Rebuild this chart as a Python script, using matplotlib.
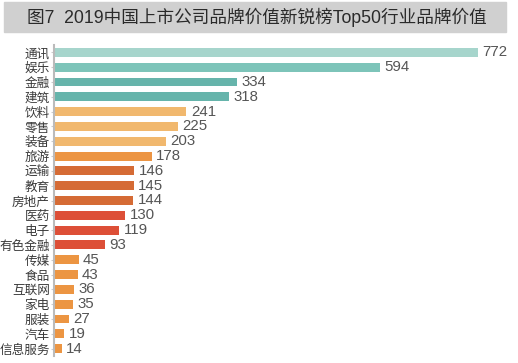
import matplotlib.pyplot as plt
from matplotlib.patches import Rectangle

plt.rcParams['font.family'] = ['Noto Sans CJK SC', 'DejaVu Sans']

categories = ["通讯", "娱乐", "金融", "建筑", "饮料", "零售", "装备", "旅游",
              "运输", "教育", "房地产", "医药", "电子", "有色金融", "传媒",
              "食品", "互联网", "家电", "服装", "汽车", "信息服务"]
values = [772, 594, 334, 318, 241, 225, 203, 178, 146, 145, 144, 130, 119,
          93, 45, 43, 36, 35, 27, 19, 14]
colors = ["#a6d5cc", "#7dc4b9", "#66b4ab", "#66b4ab",
          "#f1b86e", "#f1b86e", "#f1b86e", "#ec9544",
          "#d56b35", "#d56b35", "#d56b35",
          "#dd4f37", "#dd4f37", "#dd4f37"] + ["#ec9542"] * 7

title = "图7  2019中国上市公司品牌价值新锐榜Top50行业品牌价值"

fig = plt.figure(figsize=(5.18, 3.63), dpi=100)
W, H = 518, 363

# title band
fig.patches.append(Rectangle((4 / W, 1 - 32 / H), 502 / W, 30 / H,
                             transform=fig.transFigure, color="#d0d0d0", zorder=0))
fig.text(27 / W, 1 - 17.5 / H, title, fontsize=12.7, color="#2a2a2a",
         va="center", ha="left", family=['Liberation Sans', 'Noto Sans CJK SC'])

ax = fig.add_axes([54 / W, 1 - 356 / H, 456 / W, 311 / H])
y = range(len(categories))
ax.barh(y, values, height=0.6, color=colors)
for yi, v in zip(y, values):
    ax.text(v + 8, yi, str(v), va="center", ha="left", fontsize=10.8,
            color="#555555", family=['Liberation Sans', 'Noto Sans CJK SC'])

ax.set_xlim(0, 830)
ax.set_ylim(20.5, -0.5)
ax.set_yticks(list(y))
ax.set_yticklabels(categories, fontsize=9.1, color="#3a3a3a")
ax.set_xticks([])
for s in ["top", "right", "bottom"]:
    ax.spines[s].set_visible(False)
ax.spines["left"].set_color("#bbbbbb")
ax.spines["left"].set_linewidth(1.5)
ax.tick_params(axis="y", length=2, color="#cccccc", pad=1)

fig.savefig("out.png", dpi=100)
